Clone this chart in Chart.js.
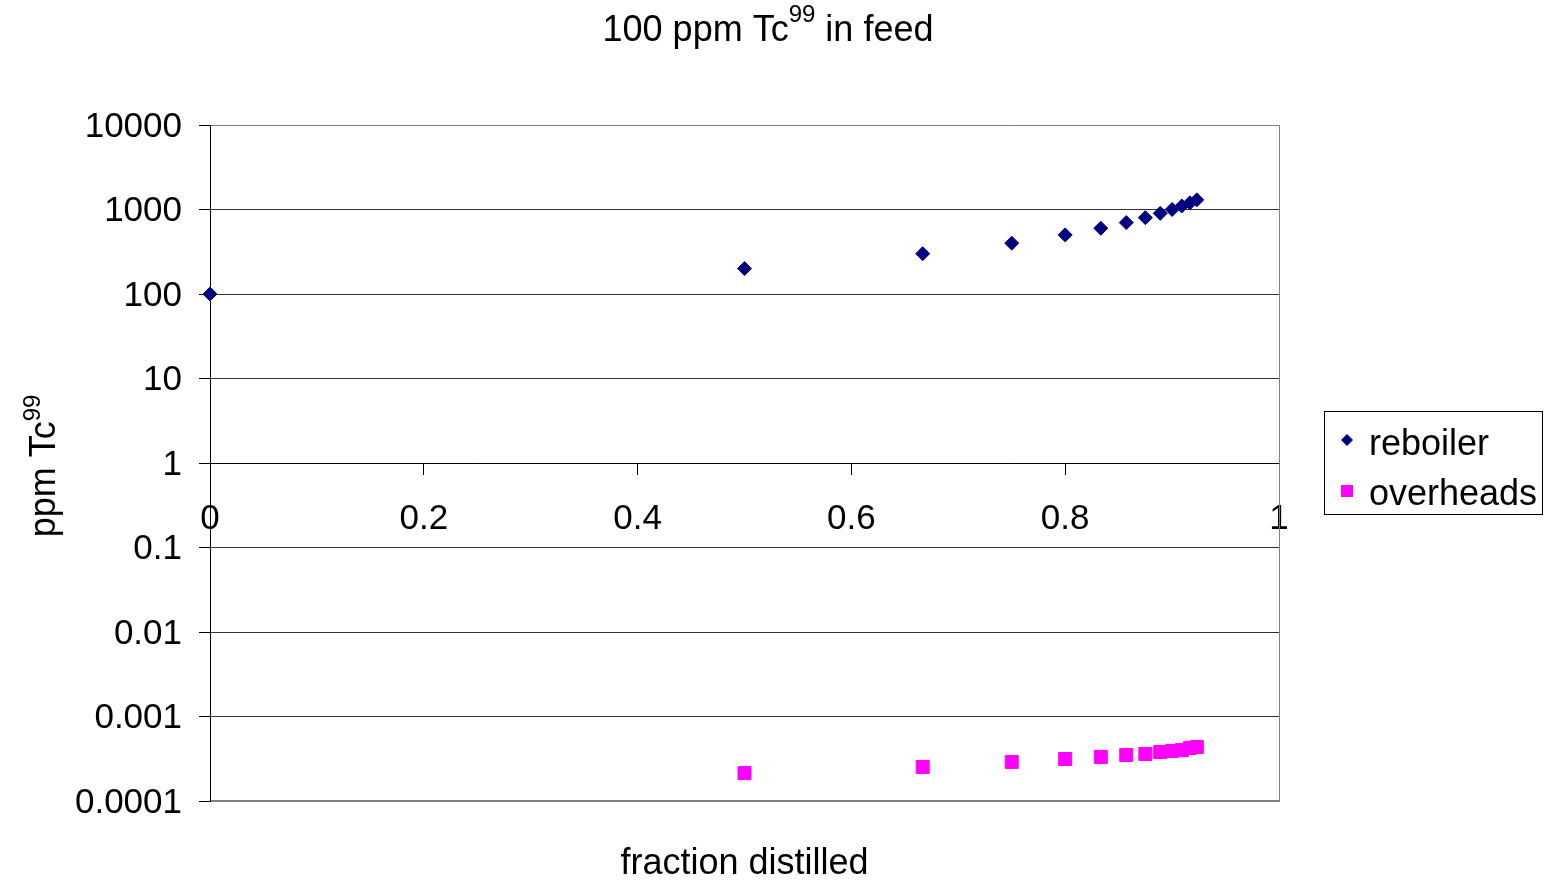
<!DOCTYPE html>
<html>
<head>
<meta charset="utf-8">
<title>100 ppm Tc99 in feed</title>
<script src="https://cdn.jsdelivr.net/npm/chart.js@4.4.0/dist/chart.umd.min.js"></script>
<style>
  html, body { margin: 0; padding: 0; background: #fff; }
  canvas { display: block; }
</style>
</head>
<body>
<canvas id="chart" width="1545" height="881"></canvas>
<script>
// values
const fractionDistilled = [0, 0.5, 0.6667, 0.75, 0.8, 0.8333, 0.8571, 0.875, 0.8889, 0.9, 0.9091, 0.9167, 0.9231];
const reboiler = [100, 200, 300, 400, 500, 600, 700, 800, 900, 1000, 1100, 1200, 1300];
const overheads = [null, 0.000214, 0.000253, 0.00029, 0.000314, 0.000332, 0.00035, 0.00036, 0.00038, 0.00039, 0.0004, 0.000424, 0.000436];
const seriesNames = ['reboiler', 'overheads'];
const xTicks = [0, 0.2, 0.4, 0.6, 0.8, 1];
const xTickLabels = ['0', '0.2', '0.4', '0.6', '0.8', '1'];
const yTicks = [0.0001, 0.001, 0.01, 0.1, 1, 10, 100, 1000, 10000];
const yTickLabels = ['0.0001', '0.001', '0.01', '0.1', '1', '10', '100', '1000', '10000'];

const FONT = '"Liberation Sans", Arial, sans-serif';
const NAVY = '#000080';
const MAGENTA = '#ff00ff';

// draws a line of text made of [text, size, rise] parts, centred on x
function drawParts(ctx, parts, x, y) {
	let total = 0;
	parts.forEach(function (p) {
		ctx.font = p[1] + 'px ' + FONT;
		total += ctx.measureText(p[0]).width;
	});
	let cx = x - total / 2;
	parts.forEach(function (p) {
		ctx.font = p[1] + 'px ' + FONT;
		ctx.fillText(p[0], cx, y - p[2]);
		cx += ctx.measureText(p[0]).width;
	});
}

const decorations = {
	id: 'decorations',
	beforeDatasetsDraw(chart) {
		const ctx = chart.ctx;
		const a = chart.chartArea;
		ctx.save();
		ctx.strokeStyle = '#808080';
		ctx.lineWidth = 1;
		ctx.beginPath();
		ctx.moveTo(a.left + 1, a.top + 0.5);
		ctx.lineTo(a.right + 0.5, a.top + 0.5);
		ctx.lineTo(a.right + 0.5, a.bottom);
		ctx.stroke();
		ctx.lineWidth = 2;
		ctx.beginPath();
		ctx.moveTo(a.left + 1, a.bottom);
		ctx.lineTo(a.right + 1, a.bottom);
		ctx.stroke();
		ctx.restore();
	},
	afterDraw(chart) {
		const ctx = chart.ctx;
		const a = chart.chartArea;
		ctx.save();
		ctx.fillStyle = '#000';
		ctx.textAlign = 'left';
		ctx.textBaseline = 'alphabetic';

		drawParts(ctx, [['100 ppm Tc', 36, 0], ['99', 24, 19], [' in feed', 36, 0]], 768, 41);
		drawParts(ctx, [['fraction distilled', 36, 0]], (a.left + a.right) / 2, 874);

		ctx.save();
		ctx.translate(55, 466);
		ctx.rotate(-Math.PI / 2);
		drawParts(ctx, [['ppm Tc', 36, 0], ['99', 24, 15]], 0, 0);
		ctx.restore();

		// legend
		ctx.strokeStyle = '#000';
		ctx.lineWidth = 1;
		ctx.strokeRect(1324.5, 411.5, 218, 103);
		ctx.fillStyle = NAVY;
		ctx.beginPath();
		ctx.moveTo(1347, 434);
		ctx.lineTo(1353, 440);
		ctx.lineTo(1347, 446);
		ctx.lineTo(1341, 440);
		ctx.closePath();
		ctx.fill();
		ctx.fillStyle = MAGENTA;
		ctx.fillRect(1341, 485, 12, 12);
		ctx.fillStyle = '#000';
		ctx.font = '36px ' + FONT;
		ctx.fillText(seriesNames[0], 1369, 455);
		ctx.fillText(seriesNames[1], 1369, 505);
		ctx.restore();
	},
};

const config = {
	type: 'scatter',
	data: {
		datasets: [
			{
				label: seriesNames[0],
				data: fractionDistilled.map((x, i) => ({ x: x, y: reboiler[i] })),
				pointStyle: 'rectRot',
				pointRadius: 7,
				pointBorderWidth: 1,
				backgroundColor: NAVY,
				borderColor: NAVY,
				clip: false,
			},
			{
				label: seriesNames[1],
				data: fractionDistilled.map((x, i) => ({ x: x, y: overheads[i] })),
				pointStyle: 'rect',
				pointRadius: 9.2,
				pointBorderWidth: 1,
				backgroundColor: MAGENTA,
				borderColor: MAGENTA,
				clip: false,
			},
		],
	},
	options: {
		responsive: false,
		animation: false,
		events: [],
		layout: { padding: { left: 0, top: 125, right: 266, bottom: 80 } },
		plugins: {
			legend: { display: false },
			title: { display: false },
			tooltip: { enabled: false },
		},
		scales: {
			x: {
				type: 'linear',
				min: 0,
				max: 1,
				position: { y: 1 },
				afterBuildTicks: (scale) => {
					scale.ticks = xTicks.map((v) => ({ value: v }));
				},
				ticks: {
					color: '#000',
					font: { family: FONT, size: 35 },
					padding: 24,
					maxRotation: 0,
					autoSkip: false,
					callback: (v, i) => xTickLabels[i],
				},
				grid: {
					drawOnChartArea: false,
					drawTicks: true,
					tickLength: 11,
					tickColor: '#000',
				},
				border: { display: true, color: '#000', width: 1 },
			},
			y: {
				type: 'logarithmic',
				min: 0.0001,
				max: 10000,
				afterBuildTicks: (scale) => {
					scale.ticks = yTicks.map((v) => ({ value: v }));
				},
				afterFit: (scale) => {
					scale.width = 210;
				},
				ticks: {
					color: '#000',
					font: { family: FONT, size: 35 },
					padding: 17,
					labelOffset: 2,
					autoSkip: false,
					callback: (v, i) => yTickLabels[i],
				},
				grid: {
					color: '#333',
					lineWidth: 1,
					tickLength: 11,
					tickColor: '#000',
				},
				border: { display: true, color: '#000', width: 1 },
			},
		},
	},
	plugins: [decorations],
};

new Chart(document.getElementById('chart'), config);
</script>
</body>
</html>
